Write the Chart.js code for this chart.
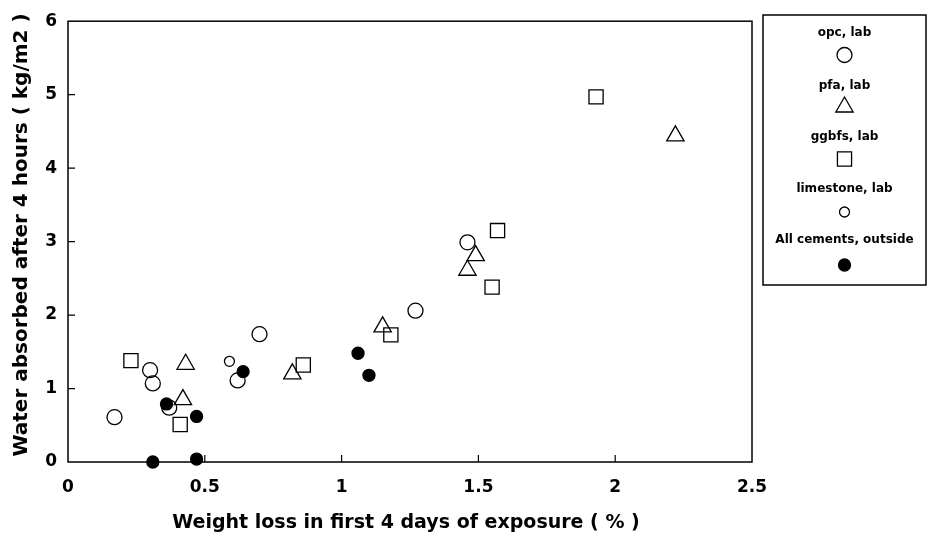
<!DOCTYPE html>
<html>
<head>
<meta charset="utf-8">
<script src="https://cdn.jsdelivr.net/npm/chart.js@4.4.0/dist/chart.umd.min.js"></script>
<style>
  html, body { margin: 0; padding: 0; background: #fff; }
  #wrap { width: 928px; height: 541px; }
</style>
</head>
<body>
<div id="wrap"><canvas id="chart" width="928" height="541"></canvas></div>
<script>
// Datos
const opcX = [0.17, 0.30, 0.31, 0.37, 0.62, 0.70, 1.27, 1.46];
const opcY = [0.61, 1.25, 1.07, 0.74, 1.11, 1.74, 2.06, 2.99];

const pfaX = [0.43, 0.42, 0.82, 1.15, 1.49, 1.46, 2.22];
const pfaY = [1.33, 0.85, 1.20, 1.84, 2.81, 2.61, 4.44];

const ggbfsX = [0.23, 0.41, 0.86, 1.18, 1.55, 1.57, 1.93];
const ggbfsY = [1.38, 0.51, 1.32, 1.73, 2.38, 3.15, 4.97];

const limeX = [0.59];
const limeY = [1.37];

const outsideX = [0.31, 0.36, 0.47, 0.47, 0.64, 1.06, 1.10];
const outsideY = [0.00, 0.79, 0.62, 0.04, 1.23, 1.48, 1.18];

const xTicks = [0, 0.5, 1, 1.5, 2, 2.5];
const yTicks = [0, 1, 2, 3, 4, 5, 6];

const xTitle = 'Weight loss in first 4 days of exposure ( % )';
const yTitle = 'Water absorbed after 4 hours ( kg/m2 )';

const FONT = '"DejaVu Sans", Verdana, sans-serif';

function toPoints(xs, ys) {
  return xs.map((x, i) => ({ x: x, y: ys[i] }));
}

// series: etiqueta, estilo de punto, radio, relleno
const series = [
  { label: 'opc, lab', data: toPoints(opcX, opcY), style: 'circle', radius: 7.5, fill: false },
  { label: 'pfa, lab', data: toPoints(pfaX, pfaY), style: 'triangle', radius: 10, fill: false },
  { label: 'ggbfs, lab', data: toPoints(ggbfsX, ggbfsY), style: 'rect', radius: 10, fill: false },
  { label: 'limestone, lab', data: toPoints(limeX, limeY), style: 'circle', radius: 5, fill: false },
  { label: 'All cements, outside', data: toPoints(outsideX, outsideY), style: 'circle', radius: 6, fill: true },
];

const datasets = series.map(s => ({
  label: s.label,
  data: s.data,
  pointStyle: s.style,
  pointRadius: s.radius,
  pointHoverRadius: s.radius,
  pointBorderWidth: 1.3,
  borderColor: '#000',
  backgroundColor: s.fill ? '#000' : 'rgba(0,0,0,0)',
  order: s.fill ? 0 : 1,
  clip: false,
}));

// Marco, marcas interiores, títulos de ejes y leyenda
const framePlugin = {
  id: 'frame',
  afterDraw(chart) {
    const { ctx, chartArea: a, scales } = chart;
    ctx.save();
    ctx.strokeStyle = '#000';
    ctx.lineWidth = 1.5;
    ctx.strokeRect(a.left, a.top, a.right - a.left, a.bottom - a.top);

    ctx.lineWidth = 1.2;
    ctx.beginPath();
    xTicks.slice(1, -1).forEach(v => {
      const px = scales.x.getPixelForValue(v);
      ctx.moveTo(px, a.bottom);
      ctx.lineTo(px, a.bottom - 7);
    });
    yTicks.slice(1, -1).forEach(v => {
      const py = scales.y.getPixelForValue(v);
      ctx.moveTo(a.left, py);
      ctx.lineTo(a.left + 7, py);
    });
    ctx.stroke();

    // Títulos
    ctx.fillStyle = '#000';
    ctx.textAlign = 'center';
    ctx.textBaseline = 'middle';
    ctx.font = 'bold 19px ' + FONT;
    ctx.fillText(xTitle, 406, 523);
    ctx.save();
    ctx.translate(22, 235);
    ctx.rotate(-Math.PI / 2);
    ctx.font = 'bold 20px ' + FONT;
    ctx.fillText(yTitle, 0, 0);
    ctx.restore();

    // Leyenda
    const box = { x: 763, y: 15, w: 163, h: 270 };
    ctx.lineWidth = 1.5;
    ctx.strokeRect(box.x, box.y, box.w, box.h);
    const cx = box.x + box.w / 2;
    const textY = [33, 86, 137, 189, 240];
    const markY = [55, 107, 159, 212, 265];
    ctx.font = 'bold 12px ' + FONT;
    series.forEach((s, i) => {
      ctx.fillStyle = '#000';
      ctx.fillText(s.label, cx, textY[i]);
      ctx.fillStyle = s.fill ? '#000' : '#fff';
      ctx.strokeStyle = '#000';
      ctx.lineWidth = 1.3;
      Chart.helpers.drawPoint(ctx, {
        pointStyle: s.style, radius: s.radius, rotation: 0, borderWidth: 1.3
      }, cx, markY[i]);
    });
    ctx.restore();
  }
};

new Chart(document.getElementById('chart'), {
  type: 'scatter',
  data: { datasets: datasets },
  options: {
    responsive: false,
    animation: false,
    layout: { padding: { top: 15, right: 176, left: 0, bottom: 0 } },
    plugins: {
      legend: { display: false },
      tooltip: { enabled: false },
    },
    scales: {
      x: {
        type: 'linear',
        min: 0,
        max: 2.5,
        afterFit: s => { s.height = 79; },
        afterBuildTicks: s => { s.ticks = xTicks.map(v => ({ value: v })); },
        grid: { display: false, drawTicks: false },
        border: { display: false },
        ticks: {
          color: '#000',
          padding: 15,
          callback: v => String(v),
          font: { family: FONT, size: 17, weight: 'bold' },
        },
      },
      y: {
        type: 'linear',
        min: 0,
        max: 6,
        afterFit: s => { s.width = 68; },
        afterBuildTicks: s => { s.ticks = yTicks.map(v => ({ value: v })); },
        grid: { display: false, drawTicks: false },
        border: { display: false },
        ticks: {
          color: '#000',
          padding: 11,
          callback: v => String(v),
          font: { family: FONT, size: 17, weight: 'bold' },
        },
      },
    },
  },
  plugins: [framePlugin],
});
</script>
</body>
</html>
